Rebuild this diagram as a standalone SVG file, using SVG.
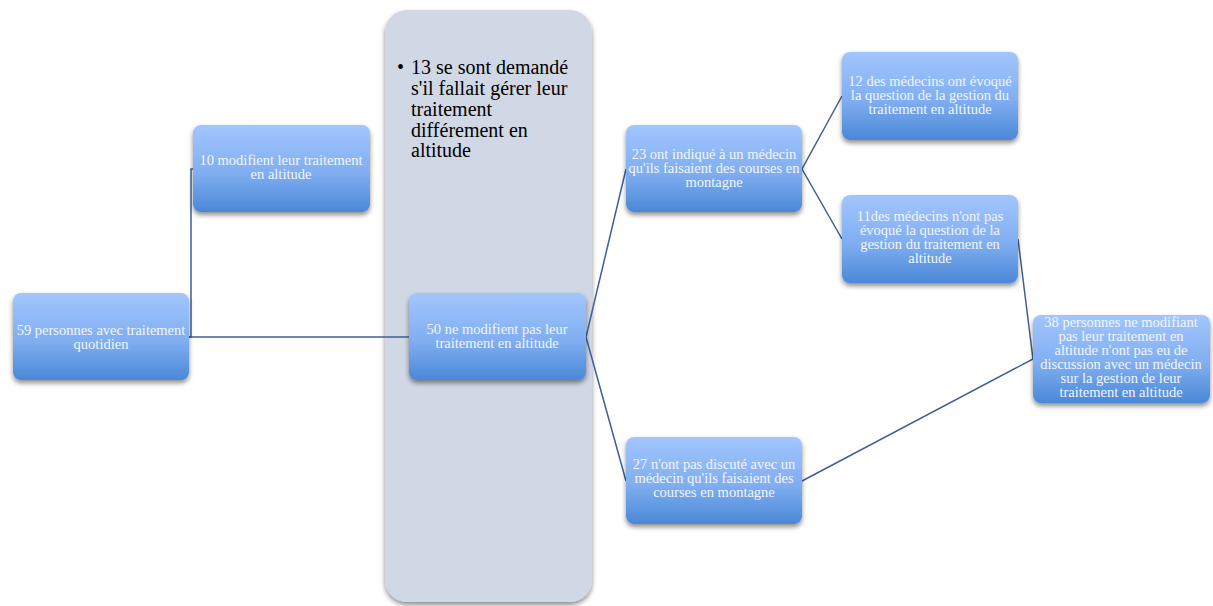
<svg xmlns="http://www.w3.org/2000/svg" width="1213" height="606" viewBox="0 0 1213 606">
<defs>
<linearGradient id="g" x1="0" y1="0" x2="0" y2="1">
<stop offset="0" stop-color="#a2c6ff"/>
<stop offset="0.55" stop-color="#80aef0"/>
<stop offset="1" stop-color="#4a88d8"/>
</linearGradient>
<filter id="sh" x="-10%" y="-10%" width="120%" height="130%">
<feGaussianBlur in="SourceAlpha" stdDeviation="2.5"/>
<feOffset dx="0" dy="3" result="b"/>
<feComponentTransfer><feFuncA type="linear" slope="0.45"/></feComponentTransfer>
<feMerge><feMergeNode/><feMergeNode in="SourceGraphic"/></feMerge>
</filter>
</defs>
<style>
.box{fill:url(#g);filter:url(#sh);}
.t{font-family:"Liberation Serif","DejaVu Serif",serif;font-size:14.5px;fill:#f2f6ff;text-anchor:middle;}
.c{fill:none;stroke:#3f5f97;stroke-width:1.5;}
.pt{font-family:"Liberation Serif","DejaVu Serif",serif;font-size:20px;fill:#000;}
</style>
<rect width="1213" height="606" fill="#fff"/>
<g id="panel">
<rect x="385" y="10" width="207" height="592" rx="22" fill="#d0d7e5" filter="url(#sh)"/>
<text class="pt" x="397" y="74">•</text>
<text class="pt" x="411" y="74">13 se sont demandé</text>
<text class="pt" x="411" y="95">s'il fallait gérer leur</text>
<text class="pt" x="411" y="116">traitement</text>
<text class="pt" x="411" y="137">différement en</text>
<text class="pt" x="411" y="157">altitude</text>
</g>
<g id="connectors">
<polyline class="c" points="189,337 191,337 191,169 193,169"/>
<line class="c" x1="189" y1="337" x2="409" y2="337"/>
<polyline class="c" points="626,169 586,337 626,481"/>
<polyline class="c" points="842,96 802,169 842,239"/>
<polyline class="c" points="1018,239 1033,359 802,481"/>
</g>
<g id="n59"><rect class="box" x="13" y="293" width="176" height="87" rx="8"/>
<text class="t" x="101" y="335">59 personnes avec traitement</text><text class="t" x="101" y="349">quotidien</text></g>
<g id="n10"><rect class="box" x="193" y="125" width="177" height="87" rx="8"/>
<text class="t" x="281" y="165">10 modifient leur traitement</text><text class="t" x="281" y="179">en altitude</text></g>
<g id="n50"><rect class="box" x="409" y="293" width="177" height="87" rx="8"/>
<text class="t" x="497" y="334">50 ne modifient pas leur</text><text class="t" x="497" y="348">traitement en altitude</text></g>
<g id="n23"><rect class="box" x="626" y="125" width="176" height="87" rx="8"/>
<text class="t" x="714" y="159">23 ont indiqué à un médecin</text><text class="t" x="714" y="173">qu'ils faisaient des courses en</text><text class="t" x="714" y="187">montagne</text></g>
<g id="n27"><rect class="box" x="626" y="437" width="176" height="87" rx="8"/>
<text class="t" x="714" y="469">27 n'ont pas discuté avec un</text><text class="t" x="714" y="483">médecin qu'ils faisaient des</text><text class="t" x="714" y="497">courses en montagne</text></g>
<g id="n12"><rect class="box" x="842" y="52" width="176" height="88" rx="8"/>
<text class="t" x="930" y="86">12 des médecins ont évoqué</text><text class="t" x="930" y="100">la question de la gestion du</text><text class="t" x="930" y="114">traitement en altitude</text></g>
<g id="n11"><rect class="box" x="842" y="195" width="176" height="88" rx="8"/>
<text class="t" x="930" y="221">11des médecins n'ont pas</text><text class="t" x="930" y="235">évoqué la question de la</text><text class="t" x="930" y="249">gestion du traitement en</text><text class="t" x="930" y="263">altitude</text></g>
<g id="n38"><rect class="box" x="1033" y="315" width="177" height="88" rx="8"/>
<text class="t" x="1121" y="327">38 personnes ne modifiant</text><text class="t" x="1121" y="341">pas leur traitement en</text><text class="t" x="1121" y="355">altitude n'ont pas eu de</text><text class="t" x="1121" y="369">discussion avec un médecin</text><text class="t" x="1121" y="383">sur la gestion de leur</text><text class="t" x="1121" y="397">traitement en altitude</text></g>
</svg>
